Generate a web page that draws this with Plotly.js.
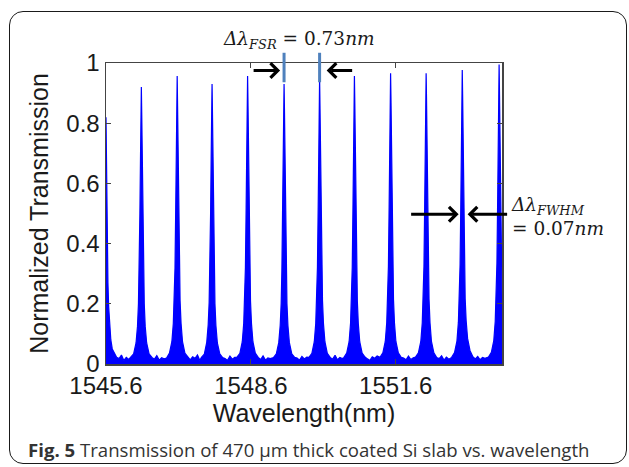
<!DOCTYPE html>
<html>
<head>
<meta charset="utf-8">
<script src="https://cdn.plot.ly/plotly-3.0.1.min.js"></script>
<style>
  html, body { margin: 0; padding: 0; background: #fff; }
  #wrap { position: relative; width: 629px; height: 467px; }
  #chart { position: absolute; left: 0; top: 0; width: 629px; height: 467px; }
  #frame { position: absolute; left: 9px; top: 11px; width: 616px; height: 451px;
           border: 1.5px solid #1a1a1a; border-radius: 14px; pointer-events: none; }
</style>
</head>
<body>
<div id="wrap"><div id="chart"></div><div id="frame"></div></div>
<script>
// Wavelength (nm) and normalized transmission, one line per resonance
const wavelength = [
  1545.600, 1545.606, 1545.615, 1545.625, 1545.640, 1545.655, 1545.675, 1545.700, 1545.730, 1545.770, 1545.820, 1545.870, 1545.920, 1545.970, 1546.020, 1546.070,
  1546.112, 1546.172, 1546.222, 1546.252, 1546.272, 1546.287, 1546.302, 1546.314, 1546.324, 1546.332, 1546.340, 1546.350, 1546.362, 1546.377, 1546.392, 1546.412, 1546.442, 1546.492, 1546.552, 1546.602, 1546.652, 1546.702, 1546.752, 1546.802,
  1546.854, 1546.914, 1546.964, 1546.994, 1547.014, 1547.029, 1547.044, 1547.056, 1547.066, 1547.074, 1547.082, 1547.092, 1547.104, 1547.119, 1547.134, 1547.154, 1547.184, 1547.234, 1547.294, 1547.344, 1547.394, 1547.444, 1547.494, 1547.544,
  1547.576, 1547.636, 1547.686, 1547.716, 1547.736, 1547.751, 1547.766, 1547.778, 1547.788, 1547.796, 1547.804, 1547.814, 1547.826, 1547.841, 1547.856, 1547.876, 1547.906, 1547.956, 1548.016, 1548.066, 1548.116, 1548.166, 1548.216, 1548.266,
  1548.312, 1548.372, 1548.422, 1548.452, 1548.472, 1548.487, 1548.502, 1548.514, 1548.524, 1548.532, 1548.540, 1548.550, 1548.562, 1548.577, 1548.592, 1548.612, 1548.642, 1548.692, 1548.752, 1548.802, 1548.852, 1548.902, 1548.952, 1549.002,
  1549.067, 1549.127, 1549.177, 1549.207, 1549.227, 1549.242, 1549.257, 1549.269, 1549.279, 1549.287, 1549.295, 1549.305, 1549.317, 1549.332, 1549.347, 1549.367, 1549.397, 1549.447, 1549.507, 1549.557, 1549.607, 1549.657, 1549.707, 1549.757,
  1549.803, 1549.863, 1549.913, 1549.943, 1549.963, 1549.978, 1549.993, 1550.005, 1550.015, 1550.023, 1550.031, 1550.041, 1550.053, 1550.068, 1550.083, 1550.103, 1550.133, 1550.183, 1550.243, 1550.293, 1550.343, 1550.393, 1550.443, 1550.493,
  1550.524, 1550.584, 1550.634, 1550.664, 1550.684, 1550.699, 1550.714, 1550.726, 1550.736, 1550.744, 1550.752, 1550.762, 1550.774, 1550.789, 1550.804, 1550.824, 1550.854, 1550.904, 1550.964, 1551.014, 1551.064, 1551.114, 1551.164, 1551.214,
  1551.273, 1551.333, 1551.383, 1551.413, 1551.433, 1551.448, 1551.463, 1551.475, 1551.485, 1551.493, 1551.501, 1551.511, 1551.523, 1551.538, 1551.553, 1551.573, 1551.603, 1551.653, 1551.713, 1551.763, 1551.813, 1551.863, 1551.913, 1551.963,
  1552.009, 1552.069, 1552.119, 1552.149, 1552.169, 1552.184, 1552.199, 1552.211, 1552.221, 1552.229, 1552.237, 1552.247, 1552.259, 1552.274, 1552.289, 1552.309, 1552.339, 1552.389, 1552.449, 1552.499, 1552.549, 1552.599, 1552.649, 1552.699,
  1552.757, 1552.817, 1552.867, 1552.897, 1552.917, 1552.932, 1552.947, 1552.959, 1552.969, 1552.977, 1552.985, 1552.995, 1553.007, 1553.022, 1553.037, 1553.057, 1553.087, 1553.137, 1553.197, 1553.247, 1553.297, 1553.347, 1553.397, 1553.447,
  1553.520, 1553.580, 1553.630, 1553.660, 1553.680, 1553.695, 1553.710, 1553.722, 1553.732, 1553.740, 1553.748, 1553.758, 1553.770, 1553.785, 1553.800
];
const transmission = [
  0.82, 0.72, 0.55, 0.40, 0.27, 0.19, 0.12, 0.08, 0.05, 0.035, 0.022, 0.018, 0.030, 0.012, 0.022, 0.015,
  0.022, 0.034, 0.070, 0.125, 0.200, 0.300, 0.500, 0.680, 0.840, 0.920, 0.830, 0.660, 0.490, 0.300, 0.200, 0.125, 0.070, 0.034, 0.022, 0.016, 0.028, 0.013, 0.021, 0.017,
  0.020, 0.036, 0.074, 0.135, 0.210, 0.320, 0.520, 0.710, 0.870, 0.957, 0.860, 0.700, 0.510, 0.310, 0.210, 0.135, 0.074, 0.036, 0.023, 0.014, 0.024, 0.019, 0.030, 0.012,
  0.022, 0.033, 0.072, 0.130, 0.205, 0.310, 0.500, 0.690, 0.850, 0.930, 0.840, 0.680, 0.500, 0.310, 0.200, 0.128, 0.070, 0.034, 0.021, 0.018, 0.012, 0.026, 0.016, 0.022,
  0.023, 0.035, 0.074, 0.135, 0.210, 0.320, 0.520, 0.710, 0.870, 0.957, 0.870, 0.710, 0.520, 0.320, 0.210, 0.135, 0.074, 0.036, 0.022, 0.015, 0.027, 0.013, 0.020, 0.018,
  0.021, 0.034, 0.071, 0.128, 0.200, 0.310, 0.500, 0.690, 0.850, 0.930, 0.850, 0.690, 0.500, 0.310, 0.200, 0.128, 0.071, 0.034, 0.022, 0.020, 0.013, 0.025, 0.017, 0.023,
  0.022, 0.035, 0.074, 0.134, 0.210, 0.320, 0.510, 0.700, 0.860, 0.950, 0.860, 0.700, 0.510, 0.320, 0.210, 0.134, 0.074, 0.035, 0.022, 0.016, 0.029, 0.014, 0.022, 0.018,
  0.021, 0.036, 0.074, 0.135, 0.210, 0.320, 0.520, 0.710, 0.870, 0.957, 0.870, 0.710, 0.520, 0.320, 0.210, 0.135, 0.074, 0.036, 0.023, 0.017, 0.012, 0.024, 0.019, 0.027,
  0.022, 0.037, 0.075, 0.137, 0.215, 0.325, 0.525, 0.720, 0.880, 0.966, 0.880, 0.720, 0.525, 0.325, 0.215, 0.137, 0.075, 0.037, 0.022, 0.020, 0.014, 0.026, 0.015, 0.021,
  0.023, 0.037, 0.075, 0.137, 0.215, 0.325, 0.525, 0.720, 0.880, 0.966, 0.880, 0.720, 0.525, 0.325, 0.215, 0.137, 0.075, 0.037, 0.021, 0.018, 0.027, 0.013, 0.023, 0.016,
  0.022, 0.038, 0.076, 0.139, 0.218, 0.330, 0.530, 0.730, 0.890, 0.977, 0.890, 0.730, 0.530, 0.330, 0.218, 0.145, 0.085, 0.045, 0.024, 0.017, 0.025, 0.014, 0.022, 0.019,
  0.023, 0.039, 0.078, 0.142, 0.222, 0.335, 0.540, 0.740, 0.900, 0.995, 0.900, 0.740, 0.540, 0.340, 0.225
];
const xTickVals = [1545.6, 1548.6, 1551.6];
const xTickText = ['1545.6', '1548.6', '1551.6'];
const yTickVals = [0, 0.2, 0.4, 0.6, 0.8, 1];
const yTickText = ['0', '0.2', '0.4', '0.6', '0.8', '1'];
const fsrPeaks = [1549.287, 1550.023];   // resonances marking the FSR
const fsrText = '<i>Δλ</i><sub><i>FSR</i></sub> = 0.73<i>nm</i>';
const fwhmText = '<i>Δλ</i><sub><i>FWHM</i></sub><br>= 0.07<i>nm</i>';
const captionText = '<b>Fig. 5</b> Transmission of 470 μm thick coated Si slab vs. wavelength';

const trace = {
  x: wavelength, y: transmission, type: 'scatter', mode: 'lines',
  line: { color: '#0000ff', width: 1.2 }, fill: 'tozeroy', fillcolor: '#0000ff',
  hoverinfo: 'skip'
};

const axFont = { family: 'Liberation Sans, Arial, sans-serif', size: 24, color: '#1a1a1a' };
const mathFont = { family: 'DejaVu Serif, Liberation Serif, serif', size: 18.5, color: '#1a1a1a' };

function arrow(x, y, ax) {
  return { x: x, y: y, xref: 'x', yref: 'paper', ax: ax, ay: 0, axref: 'pixel', ayref: 'pixel',
           text: '', showarrow: true, arrowhead: 4, arrowsize: 0.95,
           arrowwidth: 3, arrowcolor: '#000000' };
}

const layout = {
  width: 629, height: 467,
  margin: { l: 105.5, r: 126.5, t: 62.5, b: 103 },
  paper_bgcolor: 'rgba(0,0,0,0)', plot_bgcolor: '#ffffff',
  showlegend: false,
  font: axFont,
  xaxis: {
    range: [1545.6, 1553.8], tickvals: xTickVals, ticktext: xTickText,
    ticks: 'inside', ticklen: 5, tickcolor: '#444', mirror: 'ticks', showline: true,
    linecolor: '#444', linewidth: 1.5, showgrid: false, zeroline: false,
    tickfont: axFont,
    title: { text: 'Wavelength(nm)', font: { family: axFont.family, size: 25, color: '#1a1a1a' }, standoff: 4 }
  },
  yaxis: {
    range: [0, 1], tickvals: yTickVals, ticktext: yTickText,
    ticks: 'inside', ticklen: 5, tickcolor: '#444', mirror: 'ticks', showline: true,
    linecolor: '#444', linewidth: 1.5, showgrid: false, zeroline: false,
    tickfont: axFont,
    title: { text: 'Normalized Transmission', font: { family: axFont.family, size: 25, color: '#1a1a1a' }, standoff: 10 }
  },
  shapes: fsrPeaks.map(p => ({ type: 'line', xref: 'x', yref: 'paper', x0: p, x1: p, y0: 0.936, y1: 1.034,
                                line: { color: '#4f81bd', width: 3 } })),
  annotations: [
    { text: fsrText, xref: 'paper', yref: 'paper', x: 0.487, y: 1.075, showarrow: false,
      xanchor: 'center', yanchor: 'middle', font: mathFont },
    { text: fwhmText, xref: 'paper', yref: 'paper', x: 1.017, y: 0.49, showarrow: false,
      xanchor: 'left', yanchor: 'middle', align: 'left', font: mathFont },
    arrow(1549.205, 0.975, -28),
    arrow(1550.169, 0.975, 27),
    arrow(1552.902, 0.4975, -49),
    arrow(1553.088, 0.4975, 41),
    { text: captionText, xref: 'paper', yref: 'paper', x: -0.203, y: -0.285, showarrow: false,
      xanchor: 'left', yanchor: 'middle', font: { family: 'Open Sans, sans-serif', size: 18.6, color: '#333333' } }
  ]
};

Plotly.newPlot('chart', [trace], layout, { displayModeBar: false, staticPlot: true });
</script>
</body>
</html>
